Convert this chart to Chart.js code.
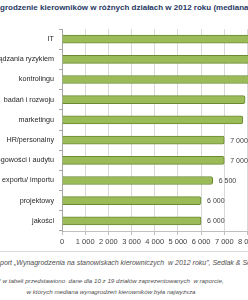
<!DOCTYPE html>
<html>
<head>
<meta charset="utf-8">
<script src="https://cdn.jsdelivr.net/npm/chart.js@4/dist/chart.umd.min.js"></script>
<style>
  html, body { margin:0; padding:0; background:#fff; }
  body { width:248px; height:300px; overflow:hidden; position:relative; }
  .t { position:absolute; white-space:nowrap; }
  #title { top:3px; font: bold 8px 'Liberation Sans', Arial, sans-serif; color:#1f3864; }
  #src { top:259px; font: italic 7px 'Liberation Sans', Arial, sans-serif; color:#4d4d4d; }
  .note { left:111px; width:max-content; transform:translateX(-50%); font: italic 6.2px 'Liberation Sans', Arial, sans-serif; color:#4d4d4d; }
  #n1 { top:277px; }
  #n2 { top:288px; }
  #rule { position:absolute; left:0; top:251px; width:248px; height:1px; background:#d9d9d9; }
  #wrap { position:absolute; left:-60px; top:0; width:397px; height:250px; }
</style>
</head>
<body>
<div id="title" class="t"><span id="tcut">Wyna</span>grodzenie kierowników w różnych działach w 2012 roku (mediana, PLN)*</div>
<div id="wrap"><canvas id="c" width="397" height="250"></canvas></div>
<div id="rule"></div>
<div id="src" class="t"><span id="scut">Źródło: ra</span>port „Wynagrodzenia na stanowiskach kierowniczych&nbsp; w 2012 roku”, Sedlak &amp; Sedlak</div>
<div id="n1" class="t note">* w tabeli przedstawiono&nbsp; dane dla 10 z 19 działów zaprezentowanych&nbsp; w raporcie,</div>
<div id="n2" class="t note">w których mediana wynagrodzeń kierowników była najwyższa</div>
<script>
const categories = ["IT", "zarządzania ryzykiem", "kontrolingu", "badań i rozwoju", "marketingu",
  "HR/personalny", "księgowości i audytu", "exportu/ importu", "projektowy", "jakości"];
const medianValues = [10000, 9500, 9000, 7900, 7800, 7000, 7000, 6500, 6000, 6000];
const xTickStep = 1000;

document.getElementById('title').style.left = -document.getElementById('tcut').getBoundingClientRect().width + 'px';
document.getElementById('src').style.left = -document.getElementById('scut').getBoundingClientRect().width + 'px';

const fmt = v => String(v).replace(/\B(?=(\d{3})+(?!\d))/g, ' ');

const labelPlugin = {
  id: 'barLabels',
  afterDatasetsDraw(chart) {
    const ctx = chart.ctx;
    const meta = chart.getDatasetMeta(0);
    ctx.save();
    ctx.font = "7px 'Liberation Sans', Arial, sans-serif";
    ctx.fillStyle = '#404040';
    ctx.textBaseline = 'middle';
    ctx.textAlign = 'left';
    meta.data.forEach((bar, i) => {
      ctx.fillText(fmt(chart.data.datasets[0].data[i]), bar.x + 6, bar.y + 0.5);
    });
    ctx.restore();
  }
};

new Chart(document.getElementById('c'), {
  type: 'bar',
  data: {
    labels: categories,
    datasets: [{
      data: medianValues,
      backgroundColor: '#9bbb59',
      borderColor: '#6b8a33',
      borderWidth: 1,
      borderRadius: 2,
      borderSkipped: 'start',
      barThickness: 8
    }]
  },
  options: {
    indexAxis: 'y',
    responsive: false,
    devicePixelRatio: 1,
    animation: false,
    layout: { padding: { top: 29, right: 20, left: 0, bottom: 0 } },
    plugins: { legend: { display: false }, tooltip: { enabled: false }, title: { display: false } },
    scales: {
      x: {
        min: 0, max: 11000,
        ticks: { stepSize: xTickStep, callback: v => fmt(v), font: { family: "'Liberation Sans', Arial, sans-serif", size: 7.5 }, color: '#404040', padding: 2, maxRotation: 0, autoSkip: false },
        grid: { color: '#d9d9d9', tickLength: 4, tickColor: '#bfbfbf' },
        border: { color: '#bfbfbf' },
        afterFit: s => { s.height = 19; }
      },
      y: {
        ticks: { font: { family: "'Liberation Sans', Arial, sans-serif", size: 7.2 }, color: '#262626', padding: 5 },
        grid: { drawOnChartArea: false, tickLength: 3, color: '#a6a6a6' },
        border: { color: '#a6a6a6' },
        afterFit: s => { s.width = 122; }
      }
    }
  },
  plugins: [labelPlugin]
});
</script>
</body>
</html>
